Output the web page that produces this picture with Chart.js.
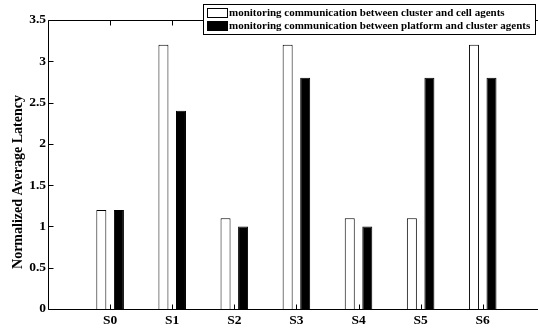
<!DOCTYPE html>
<html>
<head>
<meta charset="utf-8">
<script src="https://cdn.jsdelivr.net/npm/chart.js@4/dist/chart.umd.min.js"></script>
<style>
html,body{margin:0;padding:0;background:#fff;}
canvas{display:block;}
</style>
</head>
<body>
<canvas id="c" width="538" height="333"></canvas>
<script>
const categories = ['S0','S1','S2','S3','S4','S5','S6'];
const clusterCell = [1.2, 3.2, 1.1, 3.2, 1.1, 1.1, 3.2];
const platformCluster = [1.2, 2.4, 1.0, 2.8, 1.0, 2.8, 2.8];
const yTicks = [0, 0.5, 1, 1.5, 2, 2.5, 3, 3.5];
const seriesNames = ['monitoring communication between cluster and cell agents',
                     'monitoring communication between platform and cluster agents'];
const yTitle = 'Normalized Average Latency';

const FONT = '"Liberation Serif", "Times New Roman", serif';

const framePlugin = {
  id: 'frame',
  afterDraw(chart) {
    const ctx = chart.ctx;
    const a = chart.chartArea;
    const xs = chart.scales.x, ys = chart.scales.y;
    ctx.save();
    ctx.strokeStyle = '#000';
    ctx.lineWidth = 1;
    ctx.beginPath();
    const L = Math.round(a.left) + 0.5, B = Math.round(a.bottom) + 0.5, T = Math.round(a.top) + 0.5;
    ctx.moveTo(L, T); ctx.lineTo(L, B); ctx.lineTo(a.right + 2, B);
    ctx.moveTo(L, T); ctx.lineTo(a.right + 2, T);
    yTicks.forEach(v => {
      const y = Math.round(ys.getPixelForValue(v)) + 0.5;
      ctx.moveTo(L, y); ctx.lineTo(L + 5, y);
    });
    categories.forEach((c, i) => {
      const x = Math.round(xs.getPixelForValue(i)) + 0.5;
      ctx.moveTo(x, B); ctx.lineTo(x, B - 5);
      ctx.moveTo(x, T); ctx.lineTo(x, T + 5);
    });
    ctx.stroke();

    ctx.fillStyle = '#000';
    ctx.font = 'bold 14px ' + FONT;
    ctx.textAlign = 'center';
    ctx.textBaseline = 'middle';
    ctx.translate(18, 182);
    ctx.rotate(-Math.PI / 2);
    ctx.fillText(yTitle, 0, 0);
    ctx.restore();

    ctx.save();
    ctx.fillStyle = '#fff';
    ctx.fillRect(203.5, 4.5, 332, 30);
    ctx.strokeStyle = '#000';
    ctx.lineWidth = 1;
    ctx.strokeRect(203.5, 4.5, 332, 30);
    ctx.fillStyle = '#fff';
    ctx.fillRect(207.5, 8.5, 20, 9);
    ctx.strokeRect(207.5, 8.5, 20, 9);
    ctx.fillStyle = '#000';
    ctx.fillRect(207, 21, 21, 10);
    ctx.font = 'bold 11px ' + FONT;
    ctx.textAlign = 'left';
    ctx.textBaseline = 'middle';
    ctx.fillText(seriesNames[0], 229, 13.5);
    ctx.fillText(seriesNames[1], 229, 26.5);
    ctx.restore();
  }
};

new Chart(document.getElementById('c'), {
  type: 'bar',
  data: {
    datasets: [
      {
        label: seriesNames[0],
        data: clusterCell.map((v, i) => ({x: i, y: v})),
        backgroundColor: '#fff',
        borderColor: '#000',
        borderWidth: 1,
        categoryPercentage: 0.565,
        barPercentage: 0.57
      },
      {
        label: seriesNames[1],
        data: platformCluster.map((v, i) => ({x: i, y: v})),
        backgroundColor: '#000',
        borderColor: '#000',
        borderWidth: 1,
        categoryPercentage: 0.565,
        barPercentage: 0.57
      }
    ]
  },
  options: {
    responsive: false,
    animation: false,
    devicePixelRatio: 1,
    layout: { padding: { top: 20, right: 0, left: 0, bottom: 0 } },
    plugins: { legend: { display: false }, tooltip: { enabled: false } },
    scales: {
      x: {
        type: 'linear',
        offset: false,
        min: -1,
        max: 6.89,
        afterBuildTicks: (s) => { s.ticks = categories.map((c, i) => ({value: i})); },
        afterFit: (s) => { s.height = 24; },
        grid: { display: false, drawTicks: false },
        border: { display: false },
        ticks: {
          autoSkip: false,
          maxRotation: 0,
          padding: 3,
          color: '#000',
          font: { family: FONT, size: 13.5, weight: 'bold' },
          callback: (v) => categories[v]
        }
      },
      y: {
        min: 0,
        max: 3.5,
        afterBuildTicks: (s) => { s.ticks = yTicks.map(v => ({value: v})); },
        afterFit: (s) => { s.width = 48; },
        grid: { display: false, drawTicks: false },
        border: { display: false },
        ticks: {
          padding: 2,
          color: '#000',
          font: { family: FONT, size: 13.5, weight: 'bold' },
          callback: (v) => String(v)
        }
      }
    }
  },
  plugins: [framePlugin]
});
</script>
</body>
</html>
